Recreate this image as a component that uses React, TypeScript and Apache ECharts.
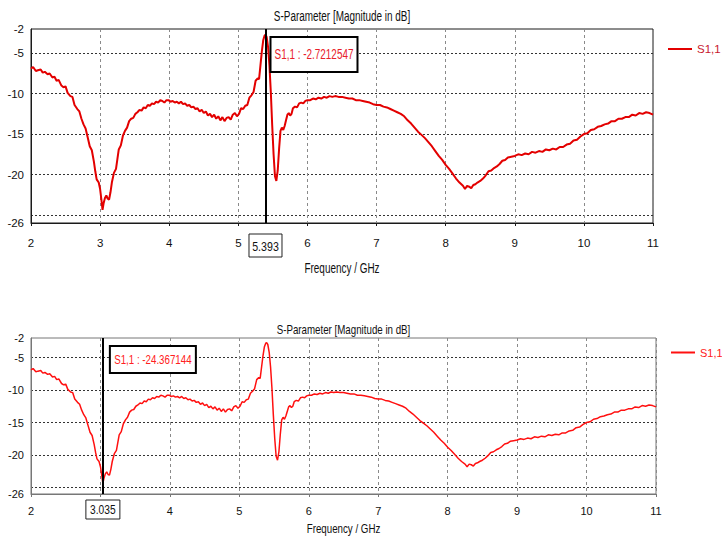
import React, { useEffect, useRef } from "react";
import * as echarts from "echarts";

const freqGHz = [
  2.00, 2.03, 2.07, 2.10, 2.14, 2.17, 2.20, 2.24, 2.27, 2.31, 2.34, 2.37, 2.40, 2.44, 2.47, 2.50,
  2.53, 2.57, 2.60, 2.63, 2.67, 2.70, 2.73, 2.76, 2.79, 2.82, 2.85, 2.88, 2.91, 2.93, 2.95, 2.98,
  3.00, 3.02, 3.035, 3.05, 3.07, 3.09, 3.11, 3.13, 3.15, 3.17, 3.20, 3.23, 3.25, 3.27, 3.30, 3.33,
  3.36, 3.39, 3.42, 3.45, 3.48, 3.51, 3.54, 3.57, 3.60, 3.63, 3.66, 3.69, 3.72, 3.75, 3.78, 3.81,
  3.84, 3.87, 3.90, 3.93, 3.96, 3.99, 4.02, 4.05, 4.08, 4.11, 4.14, 4.17, 4.20, 4.23, 4.26, 4.29,
  4.32, 4.35, 4.38, 4.41, 4.44, 4.47, 4.50, 4.53, 4.56, 4.59, 4.62, 4.65, 4.68, 4.71, 4.74, 4.77,
  4.80, 4.83, 4.86, 4.89, 4.92, 4.95, 4.98, 5.01, 5.04, 5.07, 5.10, 5.13, 5.16, 5.19, 5.22, 5.25,
  5.28, 5.30, 5.32, 5.34, 5.36, 5.38, 5.393, 5.41, 5.43, 5.45, 5.47, 5.49, 5.51, 5.53, 5.55, 5.57,
  5.59, 5.61, 5.63, 5.65, 5.67, 5.69, 5.71, 5.73, 5.75, 5.77, 5.79, 5.82, 5.85, 5.88, 5.91, 5.94,
  5.97, 6.00, 6.04, 6.08, 6.12, 6.16, 6.20, 6.24, 6.28, 6.32, 6.36, 6.40, 6.45, 6.50, 6.55, 6.60,
  6.65, 6.70, 6.75, 6.80, 6.85, 6.90, 6.95, 7.00, 7.05, 7.10, 7.15, 7.20, 7.25, 7.30, 7.35, 7.40,
  7.45, 7.50, 7.55, 7.60, 7.65, 7.70, 7.75, 7.80, 7.85, 7.90, 7.95, 8.00, 8.05, 8.10, 8.15, 8.20,
  8.25, 8.28, 8.31, 8.34, 8.37, 8.40, 8.43, 8.46, 8.50, 8.54, 8.58, 8.62, 8.66, 8.70, 8.74, 8.78,
  8.82, 8.86, 8.90, 8.95, 9.00, 9.05, 9.10, 9.15, 9.20, 9.25, 9.30, 9.35, 9.40, 9.45, 9.50, 9.55,
  9.60, 9.65, 9.70, 9.75, 9.80, 9.85, 9.90, 9.95, 10.00, 10.05, 10.10, 10.15, 10.20, 10.25, 10.30, 10.35,
  10.40, 10.45, 10.50, 10.55, 10.60, 10.65, 10.70, 10.75, 10.80, 10.85, 10.90, 10.95, 11.00,
];

const s11dB = [
  -6.9, -6.7, -7.2, -7.1, -7.0, -7.4, -7.3, -7.6, -7.5, -8.0, -7.9, -8.4, -8.3, -9.0, -9.2, -9.1,
  -9.9, -10.3, -10.4, -11.4, -11.9, -12.2, -13.1, -13.8, -14.3, -15.4, -16.5, -17.0, -18.4, -19.6, -20.6, -21.0,
  -21.8, -23.2, -24.37, -23.6, -22.9, -22.6, -23.0, -23.1, -22.2, -21.0, -19.8, -19.3, -18.1, -16.9, -16.4, -15.2,
  -14.6, -14.2, -13.4, -13.1, -13.0, -12.5, -12.3, -12.0, -12.1, -11.7, -11.8, -11.4, -11.5, -11.2, -11.3, -11.0,
  -11.1, -10.8, -10.9, -11.1, -10.8, -10.8, -11.0, -10.9, -11.1, -11.0, -11.2, -11.0, -11.3, -11.2, -11.5, -11.4,
  -11.7, -11.6, -11.9, -11.8, -12.2, -12.0, -12.4, -12.2, -12.7, -12.5, -12.9, -12.6, -13.1, -12.8, -13.3, -12.9,
  -13.4, -13.0, -12.9, -13.2, -12.6, -12.4, -12.8, -12.5, -11.8, -11.9, -11.5, -11.4, -10.5, -10.2, -9.8, -8.4,
  -8.1, -8.2, -6.5, -4.8, -3.4, -2.8, -2.72, -3.0, -4.2, -6.5, -9.8, -13.9, -17.5, -20.2, -20.8, -19.5,
  -16.8, -14.6, -14.2, -14.5, -14.0, -13.3, -12.6, -12.4, -12.7, -12.5, -11.8, -11.6, -11.7, -11.2, -11.1, -11.2,
  -10.9, -10.8, -10.8, -10.6, -10.7, -10.5, -10.6, -10.4, -10.5, -10.3, -10.4, -10.3, -10.4, -10.4, -10.5, -10.6,
  -10.6, -10.8, -10.8, -10.9, -11.0, -11.1, -11.3, -11.4, -11.4, -11.6, -11.7, -11.9, -12.1, -12.3, -12.5, -12.8,
  -13.3, -13.7, -14.2, -14.7, -15.1, -15.5, -16.0, -16.5, -17.1, -17.7, -18.2, -18.8, -19.3, -19.9, -20.5, -21.0,
  -21.4, -21.8, -21.4, -21.5, -21.7, -21.3, -21.2, -21.0, -20.8, -20.5, -20.1, -19.6, -19.5, -19.2, -19.0, -18.7,
  -18.3, -18.2, -17.9, -17.8, -17.7, -17.5, -17.6, -17.4, -17.5, -17.2, -17.3, -17.1, -17.2, -16.9, -17.0, -16.8,
  -16.9, -16.6, -16.6, -16.3, -16.2, -15.8, -15.7, -15.3, -15.0, -14.9, -14.5, -14.4, -14.1, -14.0, -13.8, -13.7,
  -13.4, -13.4, -13.1, -13.1, -12.9, -12.9, -12.6, -12.7, -12.4, -12.5, -12.3, -12.4, -12.6,
];

const yLabelValues = [-26, -20, -15, -10, -5, -2];
const yGridValues = [-25, -20, -15, -10, -5];

const seriesName = "S1,1";
const titleText = "S-Parameter [Magnitude in dB]";
const xAxisTitle = "Frequency / GHz";

const markerFreqs = [5.393, 3.035];
const markerValues = ["-2.7212547", "-24.367144"];
const markerFreqLabels = ["5.393", "3.035"];

const FONT = '"Liberation Sans", Arial, sans-serif';

export default function App() {
  const ref = useRef<HTMLDivElement>(null);

  useEffect(() => {
    if (!ref.current) return;
    const chart = echarts.init(ref.current, undefined, { renderer: "svg" });
    const data = freqGHz.map((f, i) => [f, s11dB[i]]);

    const panels = [
      {
        top: 29, height: 194, right: 69, tickFont: 11.5, bigFont: 14, sx: 0.71,
        lineColor: "#e30000", legendColor: "#c8182e", border: "#1a1a1a", labelMargin: 14,
        hide: -1, lw: 2, titleDy: 13, nameDy: 45, legendLeft: 663, legendTop: 38, legendFont: 11.5,
        boxDx: 5, boxDy: 8, boxW: 87, boxH: 35, fw: 33, fh: 23, fDy: 11, valueColor: "#e8202a",
      },
      {
        top: 338, height: 156, right: 66, tickFont: 11, bigFont: 12.5, sx: 0.78,
        lineColor: "#ff1010", legendColor: "#ff2020", border: "#777", labelMargin: 11,
        hide: 3, lw: 1.5, titleDy: 8.5, nameDy: 35, legendLeft: 666, legendTop: 342, legendFont: 11,
        boxDx: 7, boxDy: 8, boxW: 86, boxH: 27, fw: 34, fh: 19, fDy: 6, valueColor: "#ff2020",
      },
    ];

    const grids = panels.map((p) => ({
      left: 31, top: p.top, right: p.right, height: p.height,
      show: true, borderColor: p.border, borderWidth: 1, backgroundColor: "transparent",
    }));

    const xAxes = panels.map((p, i) => ({
      type: "value", gridIndex: i, min: 2, max: 11, interval: 1,
      axisLine: { show: true, onZero: false, lineStyle: { color: p.border, width: 1 } },
      axisTick: { show: true, length: 3, lineStyle: { color: p.border } },
      axisLabel: {
        margin: p.labelMargin, fontFamily: FONT, fontSize: p.tickFont, color: "#111",
        formatter: (v: number) => (v === p.hide ? "" : String(v)),
      },
      splitLine: { show: true, lineStyle: { color: "#8a8a8a", type: [3, 3], width: 1 } },
    }));

    const yAxes = panels.map((p, i) => ({
      type: "value", gridIndex: i, min: -26, max: -2,
      axisLine: { show: true, onZero: false, lineStyle: { color: p.border, width: 1 } },
      axisTick: { show: false, customValues: yGridValues },
      axisLabel: { customValues: yLabelValues, margin: 7, fontFamily: FONT, fontSize: p.tickFont, color: "#111" },
      splitLine: { show: true, lineStyle: { color: "#333", type: [2, 2], width: 1 } },
    }));

    const series = panels.map((p, i) => ({
      type: "line", name: seriesName, xAxisIndex: i, yAxisIndex: i, data,
      showSymbol: false, symbol: "none",
      lineStyle: { color: p.lineColor, width: p.lw }, itemStyle: { color: p.lineColor },
      markLine: {
        silent: true, symbol: "none", label: { show: false },
        lineStyle: { color: "#000", width: 2, type: "solid" },
        data: [{ xAxis: markerFreqs[i] }],
      },
    }));

    const legends = panels.map((p, i) => ({
      data: [seriesName], left: p.legendLeft, top: p.legendTop, icon: "rect",
      itemWidth: 24, itemHeight: 2, itemGap: 5,
      seriesIndex: i,
      textStyle: { fontFamily: FONT, fontSize: p.legendFont, color: p.legendColor },
      itemStyle: { color: p.lineColor },
    }));

    chart.setOption({
      animation: false,
      legend: legends,
      grid: grids,
      xAxis: xAxes,
      yAxis: yAxes,
      series,
    });

    const graphics: any[] = [];
    panels.forEach((p, i) => {
      const finder = { xAxisIndex: i, yAxisIndex: i } as any;
      const tl = chart.convertToPixel(finder, [2, -2]) as number[];
      const br = chart.convertToPixel(finder, [11, -26]) as number[];
      const top = chart.convertToPixel(finder, [markerFreqs[i], -2]) as number[];
      const cx = (tl[0] + br[0]) / 2;
      // title
      graphics.push({
        type: "text", x: cx, y: tl[1] - p.titleDy, scaleX: p.sx, z: 50,
        style: {
          text: titleText, fill: "#111", fontFamily: FONT, fontSize: p.bigFont,
          align: "center", verticalAlign: "middle",
        },
      });
      // x-axis name
      graphics.push({
        type: "text", x: cx, y: br[1] + p.nameDy, scaleX: p.sx, z: 50,
        style: {
          text: xAxisTitle, fill: "#111", fontFamily: FONT, fontSize: p.bigFont,
          align: "center", verticalAlign: "middle",
        },
      });
      // marker value box
      const lx = top[0];
      const boxX = lx + p.boxDx;
      const boxY = top[1] + p.boxDy;
      graphics.push({
        type: "rect", shape: { x: boxX, y: boxY, width: p.boxW, height: p.boxH },
        style: { fill: "#fff", stroke: "#000", lineWidth: 2 }, z: 100,
      });
      graphics.push({
        type: "text", x: boxX + p.boxW / 2, y: boxY + p.boxH / 2, scaleX: p.sx, z: 101,
        style: {
          text: seriesName + " : " + markerValues[i], fill: p.valueColor,
          fontFamily: FONT, fontSize: p.bigFont, align: "center", verticalAlign: "middle",
        },
      });
      // marker frequency box
      const fy = br[1] + p.fDy;
      graphics.push({
        type: "rect", shape: { x: lx - p.fw / 2, y: fy, width: p.fw, height: p.fh },
        style: { fill: "#fff", stroke: "#222", lineWidth: 1 }, z: 100,
      });
      graphics.push({
        type: "text", x: lx, y: fy + p.fh / 2 + 0.5, scaleX: 0.85, z: 101,
        style: {
          text: markerFreqLabels[i], fill: "#111",
          fontFamily: FONT, fontSize: p.tickFont + 1, align: "center", verticalAlign: "middle",
        },
      });
    });
    chart.setOption({ graphic: graphics });

    return () => chart.dispose();
  }, []);

  return (
    <div
      ref={ref}
      style={{ position: "absolute", left: 0, top: 0, width: 722, height: 537, background: "#fff" }}
    />
  );
}
